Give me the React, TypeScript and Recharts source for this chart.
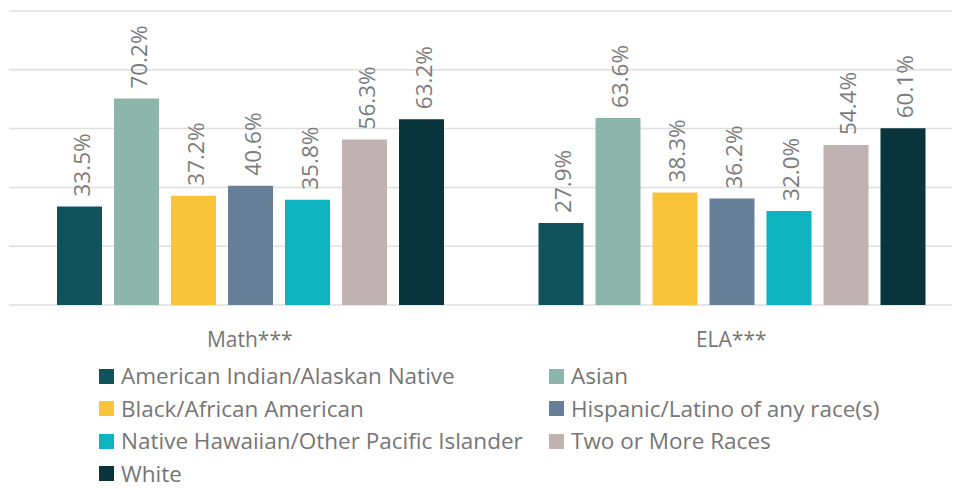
import { BarChart, Bar, XAxis, YAxis, CartesianGrid, LabelList } from "recharts";

const subjects = ["Math***", "ELA***"];
const groups = [
  "American Indian/Alaskan Native",
  "Asian",
  "Black/African American",
  "Hispanic/Latino of any race(s)",
  "Native Hawaiian/Other Pacific Islander",
  "Two or More Races",
  "White",
];
const amIndian = [33.5, 27.9];
const asian = [70.2, 63.6];
const black = [37.2, 38.3];
const hispanic = [40.6, 36.2];
const pacific = [35.8, 32.0];
const twoOrMore = [56.3, 54.4];
const white = [63.2, 60.1];
const yTicks = [0, 20, 40, 60, 80, 100];

const colors = ["#10535c", "#8cb5ab", "#f9c43a", "#687f9a", "#0db3bf", "#c0b1b3", "#0a343b"];
const seriesValues = [amIndian, asian, black, hispanic, pacific, twoOrMore, white];

const data = subjects.map((s, i) => {
  const row: Record<string, string | number> = { subject: s };
  groups.forEach((g, k) => (row[g] = seriesValues[k][i]));
  return row;
});

const FONT = "'Open Sans', sans-serif";
const TEXT = "#767676";
const ROW_H = 32.5;
const ITEM_H = 22;
const LEGEND_TOP = 368; // centre of first row, relative to wrapper

function ValueLabel(props: any) {
  const { x, y, width, value } = props;
  const cx = x + width / 2 + 2;
  const ty = y - 10;
  return (
    <text
      x={cx}
      y={ty}
      transform={`rotate(-90, ${cx}, ${ty})`}
      dominantBaseline="central"
      textAnchor="start"
      fill="#7b7b7b"
      fontSize={22.5}
      fontFamily={FONT}
    >
      {Number(value).toFixed(1)}%
    </text>
  );
}

function SubjectTick(props: any) {
  const { x, y, payload } = props;
  return (
    <text x={x} y={y + 42} textAnchor="middle" fill={TEXT} fontSize={21} fontFamily={FONT}>
      {payload.value}
    </text>
  );
}

export default function App() {
  return (
    <div style={{ position: "relative", width: 952, height: 481, overflow: "hidden", fontFamily: FONT }}>
      <BarChart
        width={964}
        height={350}
        data={data}
        margin={{ top: 3, right: 0, left: 1, bottom: 0 }}
        barCategoryGap={48}
        barGap={12}
      >
        <CartesianGrid vertical={false} stroke="#dfdfdf" strokeWidth={1.5} />
        <XAxis
          dataKey="subject"
          axisLine={false}
          tickLine={false}
          tickSize={0}
          tickMargin={0}
          height={53}
          tick={<SubjectTick />}
          interval={0}
        />
        <YAxis hide domain={[0, 100]} ticks={yTicks} />
        {groups.map((g, k) => (
          <Bar key={g} dataKey={g} fill={colors[k]} isAnimationActive={false}>
            <LabelList dataKey={g} content={<ValueLabel />} />
          </Bar>
        ))}
      </BarChart>
      {groups.map((g, k) => (
        <div
          key={g}
          style={{
            position: "absolute",
            left: 91 + (k % 2) * 450,
            top: LEGEND_TOP + Math.floor(k / 2) * ROW_H - ITEM_H / 2,
            height: ITEM_H,
            display: "flex",
            alignItems: "center",
            whiteSpace: "nowrap",
          }}
        >
          <span style={{ width: 15, height: 15, background: colors[k], marginRight: 7, flexShrink: 0 }} />
          <span style={{ fontSize: 22.5, lineHeight: `${ITEM_H}px`, color: TEXT }}>{g}</span>
        </div>
      ))}
    </div>
  );
}
